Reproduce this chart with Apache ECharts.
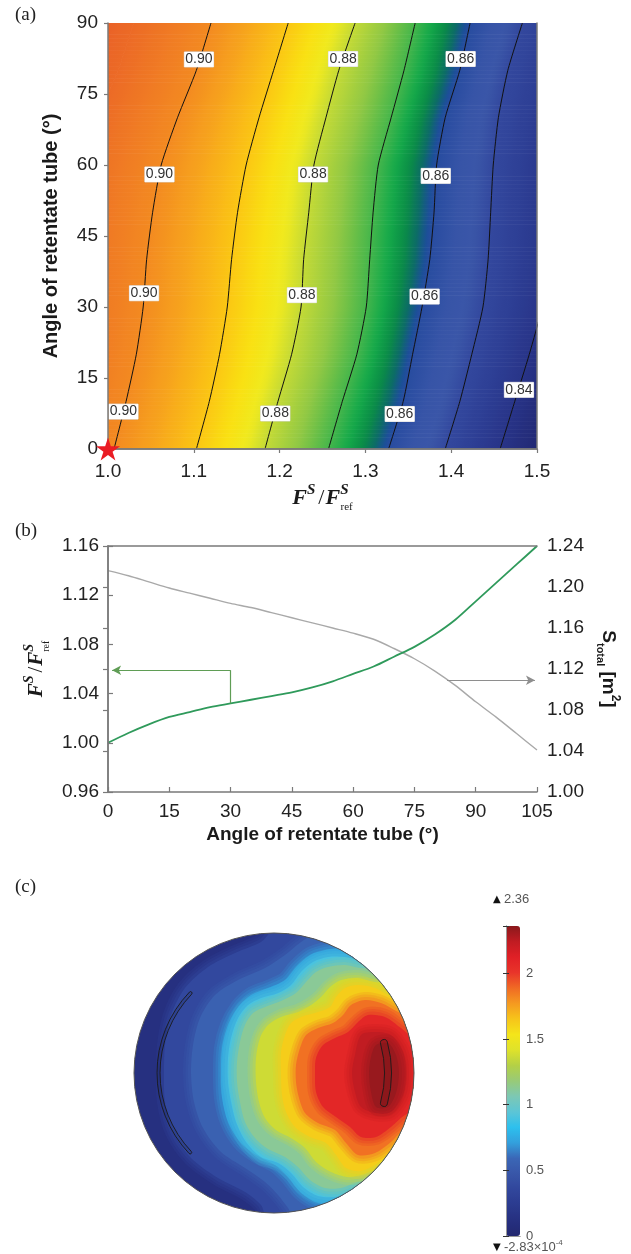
<!DOCTYPE html>
<html><head><meta charset="utf-8">
<script src="https://cdn.jsdelivr.net/npm/echarts@6/dist/echarts.min.js"></script>
<style>html,body{margin:0;padding:0;background:#fff}#c{width:631px;height:1254px}</style>
</head><body><div id="c"></div>
<script>
// ---------------- Panel (a): contour lines, F^S/F^S_ref at each retentate-tube angle ----------------
const angleRowsA = [0, 10, 20, 30, 40, 50, 60, 70, 80, 90];
const fLine092 = [0.820, 0.830, 0.845, 0.850, 0.855, 0.860, 0.870, 0.890, 0.915, 0.935]; // beyond frame (colour only)
const fLine091 = [0.915, 0.928, 0.940, 0.948, 0.952, 0.958, 0.968, 0.988, 1.012, 1.030]; // colour only
const fLine090 = [1.007, 1.021, 1.033, 1.041, 1.045, 1.052, 1.062, 1.081, 1.103, 1.120];
const fLine089 = [1.103, 1.118, 1.130, 1.139, 1.144, 1.151, 1.161, 1.176, 1.193, 1.210];
const fLine088 = [1.183, 1.198, 1.214, 1.225, 1.228, 1.234, 1.240, 1.254, 1.269, 1.288];
const fLine087 = [1.257, 1.273, 1.290, 1.301, 1.305, 1.309, 1.315, 1.330, 1.345, 1.358];
const fLine086 = [1.327, 1.344, 1.355, 1.366, 1.375, 1.380, 1.383, 1.393, 1.410, 1.422];
const fLine085 = [1.393, 1.410, 1.424, 1.437, 1.443, 1.446, 1.449, 1.455, 1.466, 1.483];
const fLine084 = [1.457, 1.474, 1.491, 1.506, 1.515, 1.519, 1.522, 1.530, 1.545, 1.560];
const fLine083 = [1.522, 1.540, 1.556, 1.571, 1.580, 1.585, 1.588, 1.595, 1.610, 1.625]; // beyond frame (colour only)
const fieldLines = [fLine092, fLine091, fLine090, fLine089, fLine088, fLine087, fLine086, fLine085, fLine084, fLine083];
const fieldLevels = [0.92, 0.91, 0.90, 0.89, 0.88, 0.87, 0.86, 0.85, 0.84, 0.83];
const drawnLines = [fLine090, fLine089, fLine088, fLine087, fLine086, fLine085, fLine084];
const contourLabels = [
  ['0.90', 1.106, 82.3], ['0.90', 1.060, 58.0], ['0.90', 1.042, 32.9], ['0.90', 1.018, 7.9],
  ['0.88', 1.274, 82.4], ['0.88', 1.239, 58.0], ['0.88', 1.226, 32.5], ['0.88', 1.195, 7.5],
  ['0.86', 1.411, 82.4], ['0.86', 1.382, 57.7], ['0.86', 1.369, 32.2], ['0.86', 1.340, 7.4],
  ['0.84', 1.479, 12.5]
];
const refPoint = [1.0, 0];
const xTicksA = [1.0, 1.1, 1.2, 1.3, 1.4, 1.5];
const yTicksA = [0, 15, 30, 45, 60, 75, 90];

// ---------------- Panel (b) ----------------
const angleB = [0, 5, 10, 15, 20, 25, 30, 35, 40, 45, 50, 55, 60, 65, 70, 75, 80, 85, 90, 95, 100, 105];
const fsRatio = [1.000, 1.008, 1.015, 1.021, 1.025, 1.029, 1.032, 1.035, 1.038, 1.041, 1.045, 1.050, 1.056, 1.062, 1.070, 1.078, 1.088, 1.100, 1.115, 1.130, 1.145, 1.160];
const sTotal = [1.216, 1.211, 1.205, 1.199, 1.194, 1.189, 1.184, 1.180, 1.175, 1.170, 1.165, 1.160, 1.155, 1.149, 1.140, 1.130, 1.118, 1.104, 1.088, 1.073, 1.057, 1.041];
const greenArrow = { angle: 30, fromY: 1.032, toY: 1.059, endAngle: 1 };
const grayArrow = { fromAngle: 83, toAngle: 104.5, y: 1.109 };

// ---------------- Panel (c): disc field, contour outlines in units of 1/140 of disc radius ----------------
const discRadius = 140;
const discContours = [
  { closed: false, pts: [[1,143],[-13,131],[-39,120],[-66,106],[-89,85],[-103,58],[-109,28],[-110,0],[-109,-29],[-101,-59],[-83,-85],[-56,-105],[-29,-119],[-13,-132],[-6,-145]] },
  { closed: false, pts: [[41,138],[27,131],[11,118],[-9,105],[-36,93],[-59,78],[-74,55],[-81,28],[-83,0],[-80,-29],[-71,-55],[-53,-79],[-29,-95],[-9,-109],[4,-122],[14,-135],[21,-145]] },
  { closed: false, pts: [[81,125],[67,125],[51,123],[36,118],[22,106],[11,93],[-6,85],[-23,78],[-36,66],[-46,48],[-52,25],[-53,0],[-52,-25],[-46,-49],[-34,-69],[-18,-82],[1,-92],[14,-104],[26,-119],[41,-129],[57,-132],[71,-129]] },
  { closed: false, pts: [[94,116],[87,113],[71,116],[54,116],[39,111],[27,101],[17,88],[4,80],[-13,75],[-26,68],[-36,55],[-43,35],[-46,15],[-46,-9],[-43,-29],[-38,-49],[-28,-69],[-13,-84],[4,-90],[17,-100],[29,-114],[44,-123],[61,-124],[74,-120],[84,-124]] },
  { closed: false, pts: [[107,105],[87,105],[71,108],[54,106],[42,101],[32,91],[22,80],[7,72],[-9,66],[-21,60],[-29,48],[-34,31],[-37,11],[-37,-9],[-34,-29],[-29,-49],[-19,-65],[-6,-76],[11,-84],[24,-94],[36,-107],[51,-115],[67,-115],[84,-109],[97,-110]] },
  { closed: false, pts: [[117,91],[101,91],[84,95],[67,93],[56,86],[47,76],[37,68],[24,61],[7,56],[-6,48],[-14,35],[-18,15],[-18,-9],[-15,-29],[-9,-45],[2,-57],[17,-65],[31,-75],[42,-89],[57,-99],[74,-104],[91,-101],[107,-94],[117,-92]] },
  { closed: false, pts: [[131,71],[117,76],[101,85],[84,88],[71,85],[62,76],[56,66],[44,61],[27,56],[17,50],[11,38],[7,21],[7,0],[8,-22],[12,-39],[21,-54],[36,-64],[52,-70],[62,-82],[72,-95],[87,-98],[104,-90],[121,-75],[131,-69]] },
  { closed: false, pts: [[137,55],[124,61],[107,70],[91,73],[77,68],[69,58],[59,50],[44,45],[32,38],[26,25],[22,8],[22,-9],[25,-25],[31,-40],[44,-50],[61,-57],[72,-70],[84,-82],[101,-80],[117,-69],[131,-55],[141,-52]] },
  { closed: false, pts: [[141,35],[127,45],[111,56],[94,58],[84,51],[74,41],[61,35],[49,28],[42,15],[41,0],[42,-19],[49,-34],[62,-44],[76,-54],[87,-64],[102,-64],[117,-54],[131,-42],[141,-39]] },
  { closed: true, pts: [[87,38],[101,41],[117,38],[129,21],[132,0],[129,-22],[117,-39],[101,-40],[87,-34],[81,-19],[78,0],[81,18]] },
  { closed: true, pts: [[102,28],[114,30],[122,18],[125,0],[122,-20],[114,-34],[102,-34],[97,-19],[95,0],[97,16]] }
];
const discBandValue = [0.12, 0.37, 0.55, 0.72, 0.90, 1.12, 1.37, 1.62, 1.87, 2.08, 2.24, 2.33];
const electrodeArcs = [[135.5, 224.2, 114, 117], [-17, 17, 110.5, 117.5]];
const colorbarMin = 0, colorbarMax = 2.36;
const colorbarLow = '-2.83×10';

// ---------------- styling helpers ----------------
const SANS = 'Liberation Sans, Arial, Helvetica, sans-serif';
const SERIF = 'Liberation Serif, Times New Roman, serif';
const cmapAStops = [[0.83,'#1f246a'],[0.835,'#232b78'],[0.84,'#283488'],[0.845,'#2d3e94'],[0.85,'#33489e'],[0.853,'#3a56a8'],[0.856,'#3754a7'],[0.86,'#284ca0'],[0.861,'#1a4f96'],[0.8625,'#0c6c66'],[0.8645,'#0a8c46'],[0.867,'#14a94a'],[0.87,'#44b64b'],[0.875,'#90c844'],[0.88,'#c4da36'],[0.883,'#f0ea1e'],[0.886,'#f9e012'],[0.89,'#fbc713'],[0.895,'#f7a61c'],[0.90,'#f38a21'],[0.91,'#ec6a26'],[0.92,'#e4502a'],[0.93,'#dc3a2c']];
function cmapA(v) {
  const s = cmapAStops;
  if (v <= s[0][0]) return s[0][1];
  if (v >= s[s.length-1][0]) return s[s.length-1][1];
  for (let i = 0; i < s.length - 1; i++) {
    if (v <= s[i+1][0]) {
      const t = (v - s[i][0]) / (s[i+1][0] - s[i][0]);
      return echarts.color.lerp(t, [s[i][1], s[i+1][1]]);
    }
  }
}
const cbColors = ['#222770','#263080','#2b3b8f','#31469c','#3856a8','#3b66b6','#339fdc','#2dc0ee','#5cc5d6','#7cc8b4','#98ca78','#b4d046','#dfe22a','#f4e51a','#f6c41a','#f59a20','#f06a24','#e9342a','#e02026','#c01c22','#8a181c'];

const fieldData = [];
for (let b = 0; b < fieldLines.length - 1; b++) for (let k = 0; k < angleRowsA.length - 1; k++) fieldData.push([b, k]);

const SUB = 12; // drawing subdivision of each row (rendering only)
function fieldRender(params, api) {
  const b = api.value(0), k = api.value(1);
  const L = fieldLines[b], R = fieldLines[b+1];
  const th0 = angleRowsA[k], th1 = angleRowsA[k+1];
  const children = [];
  const at = (arr, t) => arr[k] + t * (arr[k+1] - arr[k]);
  for (let s = 0; s < SUB; s++) {
    const t0 = s / SUB, t1 = (s + 1) / SUB, tm = (t0 + t1) / 2;
    const y0 = th0 + t0 * (th1 - th0), y1 = th0 + t1 * (th1 - th0);
    const p1 = api.coord([at(L, t0), y0]), p2 = api.coord([at(L, t1), y1]);
    const p3 = api.coord([at(R, t1), y1]), p4 = api.coord([at(R, t0), y0]);
    const x0 = api.coord([at(L, tm), y0])[0], x1 = api.coord([at(R, tm), y0])[0];
    const stops = [];
    for (let j = 0; j <= 12; j++) {
      const t = j / 12;
      stops.push({ offset: t, color: cmapA(fieldLevels[b] + t * (fieldLevels[b+1] - fieldLevels[b])) });
    }
    const grad = { type: 'linear', x: x0, y: 0, x2: x1, y2: 0, global: true, colorStops: stops };
    children.push({ type: 'polygon', shape: { points: [p1, p2, p3, p4] }, style: { fill: grad, stroke: grad, lineWidth: 0.8 } });
  }
  return { type: 'group', children };
}

function discRender(params, api) {
  const idx = api.value(1);
  const c = api.coord([0, 0]);
  const r = api.coord([discRadius, 0])[0] - c[0];
  const color = api.visual('color');
  if (idx === 0) return { type: 'circle', shape: { cx: c[0], cy: c[1], r: r }, style: { fill: color } };
  const ct = discContours[idx - 1];
  let pts = ct.pts.slice();
  if (!ct.closed) {
    const a = pts[0], z = pts[pts.length - 1];
    pts = pts.concat([[220, z[1]], [220, a[1]]]);
  }
  const P = pts.map(p => api.coord(p));
  const children = [];
  // soft edge: translucent strokes of the band colour spread over the neighbouring band
  [[16, 0.18], [11, 0.22], [6, 0.3]].forEach(([w, a]) => children.push({
    type: 'polygon', shape: { points: P, smooth: 0.3 },
    style: { fill: 'none', stroke: echarts.color.modifyAlpha(color, a), lineWidth: w, lineJoin: 'round' }
  }));
  children.push({ type: 'polygon', shape: { points: P, smooth: 0.3 }, style: { fill: color } });
  return { type: 'group', clipPath: { type: 'circle', shape: { cx: c[0], cy: c[1], r: r } }, children };
}
function electrodeRender(params, api) {
  const c = api.coord([0, 0]);
  const s = api.coord([1, 0])[0] - c[0];
  const a0 = api.value(0), a1 = api.value(1), r0 = api.value(2), r1 = api.value(3);
  return {
    type: 'sector',
    shape: { cx: c[0], cy: c[1], r0: r0 * s, r: r1 * s, startAngle: -a1 * Math.PI / 180, endAngle: -a0 * Math.PI / 180, clockwise: true, cornerRadius: (r1 - r0) * s / 2 },
    style: { fill: 'rgba(0,0,0,0.08)', stroke: '#1a1a1a', lineWidth: 0.9 }
  };
}
function outlineRender(params, api) {
  const c = api.coord([0, 0]);
  const r = api.coord([api.value(2), 0])[0] - c[0];
  return { type: 'circle', shape: { cx: c[0], cy: c[1], r: r }, style: { fill: 'none', stroke: '#555', lineWidth: 1 } };
}

const mathRich = (big, small, tiny) => ({
  F: { fontFamily: SERIF, fontStyle: 'italic', fontWeight: 'bold', fontSize: big, color: '#1a1a1a', lineHeight: big + 8 },
  S: { fontFamily: SERIF, fontStyle: 'italic', fontWeight: 'bold', fontSize: small, color: '#1a1a1a', verticalAlign: 'top', lineHeight: small + 2 },
  S2: { fontFamily: SERIF, fontStyle: 'italic', fontWeight: 'bold', fontSize: small, color: '#1a1a1a', verticalAlign: 'top', lineHeight: small + 2, padding: [0, -Math.round(small * 0.55), 0, 0] },
  sl: { fontFamily: SERIF, fontSize: big, color: '#1a1a1a', lineHeight: big + 8, padding: [0, 1, 0, 3] },
  ref: { fontFamily: SERIF, fontSize: tiny, color: '#1a1a1a', verticalAlign: 'bottom', lineHeight: tiny + 2 }
});
const mathName = '{F|F}{S|S}{sl|/}{F|F}{S2|S}{ref|ref}';

const frameLine = { show: true, lineStyle: { color: '#7a7a7a', width: 1.5 } };
const noLabel = { show: false }, noTick = { show: false }, noSplit = { show: false };
const tickFont = { fontFamily: SANS, fontSize: 19, color: '#222' };

const option = {
  animation: false,
  backgroundColor: '#fff',
  textStyle: { fontFamily: SANS },
  title: [
    { text: '(a)', left: 15, top: 6, padding: 0, textStyle: { fontFamily: SERIF, fontSize: 19, fontWeight: 'normal', color: '#222' } },
    { text: '(b)', left: 15, top: 522, padding: 0, textStyle: { fontFamily: SERIF, fontSize: 19, fontWeight: 'normal', color: '#222' } },
    { text: '(c)', left: 15, top: 878, padding: 0, textStyle: { fontFamily: SERIF, fontSize: 19, fontWeight: 'normal', color: '#222' } }
  ],
  grid: [
    { left: 108, top: 23, width: 429, height: 426, outerBoundsMode: 'none' },
    { left: 108, top: 546, width: 429, height: 246, outerBoundsMode: 'none' },
    { left: 134, top: 933, width: 280, height: 280, outerBoundsMode: 'none' },
    { left: 506, top: 926, width: 14, height: 310, outerBoundsMode: 'none' }
  ],
  xAxis: [
    { gridIndex: 0, type: 'value', position: 'bottom', min: xTicksA[0], max: xTicksA[xTicksA.length-1], interval: 0.1, z: 10,
      axisLine: frameLine, axisTick: { show: true, inside: false, length: 4, lineStyle: { color: '#7a7a7a', width: 1.2 } },
      axisLabel: { ...tickFont, margin: 13, formatter: v => v.toFixed(1) }, splitLine: noSplit,
      name: mathName, nameLocation: 'middle', nameGap: 34, nameTextStyle: { rich: mathRich(22, 15, 11) } },
    { gridIndex: 0, type: 'value', position: 'top', min: 1.0, max: 1.5, z: 10, axisLine: frameLine, axisTick: noTick, axisLabel: noLabel, splitLine: noSplit },
    { gridIndex: 1, type: 'value', position: 'bottom', min: 0, max: 105, interval: 15, z: 10,
      axisLine: frameLine, axisTick: { show: true, inside: true, length: 5, lineStyle: { color: '#7a7a7a', width: 1.2 } },
      axisLabel: { ...tickFont, margin: 10 }, splitLine: noSplit,
      name: 'Angle of retentate tube (°)', nameLocation: 'middle', nameGap: 33,
      nameTextStyle: { fontFamily: SANS, fontWeight: 'bold', fontSize: 19, color: '#1a1a1a' } },
    { gridIndex: 1, type: 'value', position: 'top', min: 0, max: 105, z: 10, axisLine: frameLine, axisTick: noTick, axisLabel: noLabel, splitLine: noSplit },
    { gridIndex: 2, type: 'value', min: -discRadius, max: discRadius, show: false },
    { gridIndex: 3, type: 'value', position: 'bottom', min: 0, max: 1, z: 10, axisLine: { show: true, lineStyle: { color: '#999', width: 1 } }, axisTick: noTick, axisLabel: noLabel, splitLine: noSplit },
    { gridIndex: 3, type: 'value', position: 'top', min: 0, max: 1, z: 10, axisLine: { show: true, lineStyle: { color: '#999', width: 1 } }, axisTick: noTick, axisLabel: noLabel, splitLine: noSplit }
  ],
  yAxis: [
    { gridIndex: 0, type: 'value', position: 'left', min: yTicksA[0], max: yTicksA[yTicksA.length-1], interval: 15, z: 10,
      axisLine: frameLine, axisTick: { show: true, inside: false, length: 4, lineStyle: { color: '#7a7a7a', width: 1.2 } },
      axisLabel: { ...tickFont, margin: 10 }, splitLine: noSplit,
      name: 'Angle of retentate tube (°)', nameLocation: 'middle', nameRotate: 90, nameGap: 47,
      nameTextStyle: { fontFamily: SANS, fontWeight: 'bold', fontSize: 20, color: '#1a1a1a' } },
    { gridIndex: 0, type: 'value', position: 'right', min: 0, max: 90, z: 10, axisLine: frameLine, axisTick: noTick, axisLabel: noLabel, splitLine: noSplit },
    { gridIndex: 1, type: 'value', position: 'left', min: 0.96, max: 1.16, interval: 0.04, z: 10,
      axisLine: frameLine, axisTick: { show: true, inside: true, length: 5, lineStyle: { color: '#7a7a7a', width: 1.2 } },
      axisLabel: { ...tickFont, margin: 9, formatter: v => v.toFixed(2) }, splitLine: noSplit,
      name: mathName, nameLocation: 'middle', nameRotate: 90, nameGap: 45, nameTextStyle: { rich: mathRich(21, 14, 10) } },
    { gridIndex: 1, type: 'value', position: 'right', min: 1.00, max: 1.24, interval: 0.04, z: 10,
      axisLine: frameLine, axisTick: { show: true, inside: true, length: 5, lineStyle: { color: '#7a7a7a', width: 1.2 } },
      axisLabel: { ...tickFont, margin: 10, formatter: v => v.toFixed(2) }, splitLine: noSplit,
      name: '{S|S}{sub|total}{S| [m}{sup|2}{S|]}', nameLocation: 'middle', nameRotate: -90, nameGap: 58,
      nameTextStyle: { rich: {
        S: { fontFamily: SANS, fontWeight: 'bold', fontSize: 19, color: '#1a1a1a', lineHeight: 26 },
        sub: { fontFamily: SANS, fontWeight: 'bold', fontSize: 11, color: '#1a1a1a', verticalAlign: 'bottom', lineHeight: 12 },
        sup: { fontFamily: SANS, fontWeight: 'bold', fontSize: 12, color: '#1a1a1a', verticalAlign: 'top', lineHeight: 13 } } } },
    { gridIndex: 2, type: 'value', min: -discRadius, max: discRadius, show: false },
    { gridIndex: 3, type: 'value', position: 'right', min: colorbarMin, max: colorbarMax, interval: 0.5, z: 10,
      axisLine: { show: true, lineStyle: { color: '#999', width: 1 } },
      axisTick: { show: true, inside: true, length: 3, lineStyle: { color: '#333', width: 1 } },
      axisLabel: { fontFamily: SANS, fontSize: 13, color: '#555', margin: 6, formatter: v => (v > 2.2 ? '' : String(v)) }, splitLine: noSplit },
    { gridIndex: 3, type: 'value', position: 'left', min: colorbarMin, max: colorbarMax, interval: 0.5, z: 10,
      axisLine: { show: true, lineStyle: { color: '#999', width: 1 } },
      axisTick: { show: true, inside: true, length: 3, lineStyle: { color: '#333', width: 1 } },
      axisLabel: noLabel, splitLine: noSplit },
    { gridIndex: 3, type: 'value', position: 'left', offset: 13, min: colorbarMin, max: colorbarMax,
      axisLine: { show: false }, axisTick: noTick, axisLabel: noLabel, splitLine: noSplit,
      name: '{t|▲} {n|' + colorbarMax.toFixed(2) + '}', nameLocation: 'end', nameGap: 27,
      nameTextStyle: { align: 'left', verticalAlign: 'middle', rich: { t: { fontFamily: 'DejaVu Sans', fontSize: 10, color: '#111' }, n: { fontFamily: SANS, fontSize: 13, color: '#555' } } } },
    { gridIndex: 3, type: 'value', position: 'left', offset: 13, min: colorbarMin, max: colorbarMax,
      axisLine: { show: false }, axisTick: noTick, axisLabel: noLabel, splitLine: noSplit,
      name: '{t|▼} {n|' + colorbarLow + '}{s|-4}', nameLocation: 'start', nameGap: 11,
      nameTextStyle: { align: 'left', verticalAlign: 'middle', rich: { t: { fontFamily: 'DejaVu Sans', fontSize: 10, color: '#111', lineHeight: 16 }, n: { fontFamily: SANS, fontSize: 13, color: '#555', lineHeight: 16 }, s: { fontFamily: SANS, fontSize: 8, color: '#555', verticalAlign: 'top', lineHeight: 9 } } } }
  ],
  visualMap: [{
    type: 'continuous', seriesIndex: 12, dimension: 0, min: colorbarMin, max: colorbarMax,
    inRange: { color: cbColors }, calculable: false, hoverLink: false, realtime: false,
    left: 506, top: 926, itemWidth: 14, itemHeight: 310, padding: 0, orient: 'vertical', z: 4
  }],
  series: []
};

// 0: panel (a) colour field
option.series.push({ type: 'custom', xAxisIndex: 0, yAxisIndex: 0, silent: true, clip: true, z: 1, renderItem: fieldRender, data: fieldData });
// 1..7: contour lines
drawnLines.forEach(arr => option.series.push({
  type: 'line', xAxisIndex: 0, yAxisIndex: 0, silent: true, clip: true, z: 3, symbol: 'none', smooth: 0.2,
  lineStyle: { color: '#111', width: 1 }, data: arr.map((f, i) => [f, angleRowsA[i]])
}));
// 8: contour labels
option.series.push({
  type: 'scatter', xAxisIndex: 0, yAxisIndex: 0, silent: true, z: 5, symbolSize: 0, itemStyle: { opacity: 1 },
  data: contourLabels.map(d => ({ name: d[0], value: [d[1], d[2]] })),
  label: { show: true, position: 'inside', formatter: '{b}', fontFamily: SANS, fontSize: 14, color: '#333', opacity: 1,
    backgroundColor: '#ffffff', padding: [1, 1, 0, 1], borderColor: '#d8d8d8', borderWidth: 0.5 }
});
// 9: reference star
option.series.push({
  type: 'scatter', xAxisIndex: 0, yAxisIndex: 0, silent: true, clip: false, z: 20,
  symbol: 'path://M50,0 L61.2,34.5 L97.6,34.5 L68.2,55.9 L79.4,90.5 L50,69.1 L20.6,90.5 L31.8,55.9 L2.4,34.5 L38.8,34.5 Z',
  symbolSize: 24, symbolKeepAspect: true, itemStyle: { color: '#ea1c24', opacity: 1 }, data: [refPoint]
});
// 10: F^S/F^S_ref curve (left axis)
option.series.push({
  type: 'line', xAxisIndex: 2, yAxisIndex: 2, silent: true, symbol: 'none', smooth: 0.3, z: 4,
  lineStyle: { color: '#2f9a5b', width: 1.8 }, data: angleB.map((a, i) => [a, fsRatio[i]]),
  markLine: { silent: true, animation: false, symbol: ['none', 'none'], label: { show: false },
    lineStyle: { color: '#5f9d55', width: 1.2, type: 'solid' }, emphasis: { disabled: true },
    data: [
      [{ coord: [greenArrow.angle, greenArrow.fromY] }, { coord: [greenArrow.angle, greenArrow.toY] }],
      [{ coord: [greenArrow.angle, greenArrow.toY], symbol: 'none' }, { coord: [greenArrow.endAngle, greenArrow.toY], symbol: 'arrow', symbolSize: [7, 9] }]
    ] }
});
// 11: S_total curve (right axis)
option.series.push({
  type: 'line', xAxisIndex: 2, yAxisIndex: 3, silent: true, symbol: 'none', smooth: 0.3, z: 3,
  lineStyle: { color: '#a9a9a9', width: 1.4 }, data: angleB.map((a, i) => [a, sTotal[i]]),
  markLine: { silent: true, animation: false, symbol: ['none', 'none'], label: { show: false },
    lineStyle: { color: '#8e8e8e', width: 1.2, type: 'solid' }, emphasis: { disabled: true },
    data: [[{ coord: [grayArrow.fromAngle, grayArrow.y], symbol: 'none' }, { coord: [grayArrow.toAngle, grayArrow.y], symbol: 'arrow', symbolSize: [7, 9] }]] }
});
// 12: disc field bands
option.series.push({ type: 'custom', xAxisIndex: 4, yAxisIndex: 4, silent: true, z: 2, renderItem: discRender, data: discBandValue.map((v, i) => [v, i]) });
// 13: electrodes
option.series.push({ type: 'custom', xAxisIndex: 4, yAxisIndex: 4, silent: true, z: 6, renderItem: electrodeRender, data: electrodeArcs });
// 14: disc outline
option.series.push({ type: 'custom', xAxisIndex: 4, yAxisIndex: 4, silent: true, z: 7, renderItem: outlineRender, data: [[0, 0, discRadius]] });

const chart = echarts.init(document.getElementById('c'), null, { renderer: 'canvas', width: 631, height: 1254 });
chart.setOption(option);
</script></body></html>
